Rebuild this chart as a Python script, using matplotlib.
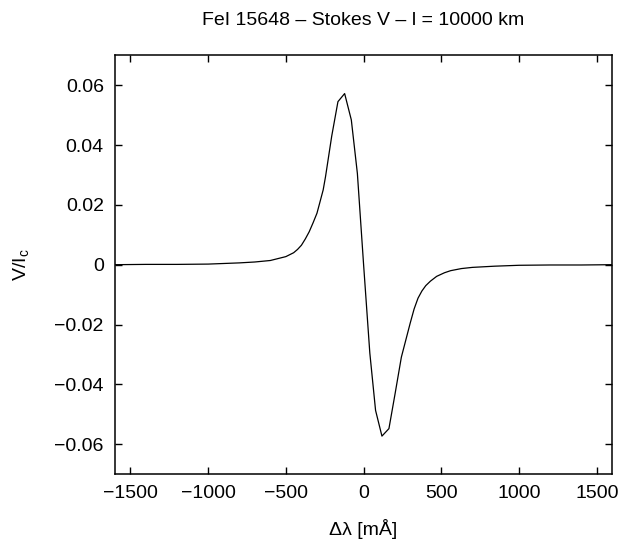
import matplotlib
matplotlib.use("Agg")
import matplotlib.pyplot as plt

plt.rcParams['font.family'] = ['Liberation Sans', 'DejaVu Sans']
plt.rcParams['mathtext.fontset'] = 'custom'
plt.rcParams['mathtext.rm'] = 'Liberation Sans'
plt.rcParams['mathtext.it'] = 'Liberation Sans'

# wavelength offset [mA] and Stokes V / Ic
dlam = [-1600, -1400, -1200, -1000, -900, -800, -700, -600, -500, -450, -425,
        -400, -375, -350, -325, -300, -283, -260, -245, -205, -165, -122, -79,
        -40, 0, 40, 77, 118, 163, 203, 243, 270, 300, 325, 350, 375, 400,
        430, 470, 520, 560, 629, 700, 843, 1000, 1200, 1400, 1600]
stokes_v = [0.0, 0.0001, 0.0001, 0.0002, 0.0004, 0.0006, 0.0009, 0.0014,
            0.0027, 0.0040, 0.0051, 0.0065, 0.0086, 0.0110, 0.0140, 0.0172,
            0.0205, 0.0250, 0.0294, 0.0430, 0.0545, 0.0572, 0.0484, 0.0305,
            0.0, -0.0295, -0.0487, -0.0573, -0.0548, -0.0430, -0.0309,
            -0.0255, -0.0195, -0.0148, -0.0112, -0.0088, -0.0070, -0.0055,
            -0.0039, -0.0027, -0.0020, -0.0013, -0.0009, -0.0005, -0.0002,
            -0.0001, -0.0001, 0.0]

xticks = [-1500, -1000, -500, 0, 500, 1000, 1500]
xticklabels = ['\u22121500', '\u22121000', '\u2212500', '0', '500', '1000', '1500']
yticks = [-0.06, -0.04, -0.02, 0, 0.02, 0.04, 0.06]
yticklabels = ['\u22120.06', '\u22120.04', '\u22120.02', '0', '0.02', '0.04', '0.06']

fig = plt.figure(figsize=(6.21, 5.5), dpi=100)
ax = fig.add_axes([0.185, 0.138, 0.801, 0.7615])

ax.plot(dlam, stokes_v, color='black', lw=0.9)
ax.set_xlim(-1600, 1600)
ax.set_ylim(-0.07, 0.07)
ax.set_xticks(xticks)
ax.set_xticklabels(xticklabels)
ax.set_yticks(yticks)
ax.set_yticklabels(yticklabels)
ax.tick_params(direction='in', length=5, width=1, top=True, right=True,
               labelsize=14, pad=8)
for s in ax.spines.values():
    s.set_linewidth(1.1)

ax.set_xlabel('\u0394\u03bb [m\u00c5]', fontsize=14)
ax.xaxis.set_label_coords(0.5, -0.108)
ax.xaxis.label.set_va('top')
ax.set_ylabel('V/I$_\\mathregular{c}$', fontsize=14)
ax.yaxis.set_label_coords(-0.168, 0.5)

fig.text(0.5854, 0.978, 'FeI 15648 \u2013 Stokes V \u2013 l = 10000 km',
         fontsize=14, ha='center', va='top')

fig.savefig('out.png', dpi=100)
